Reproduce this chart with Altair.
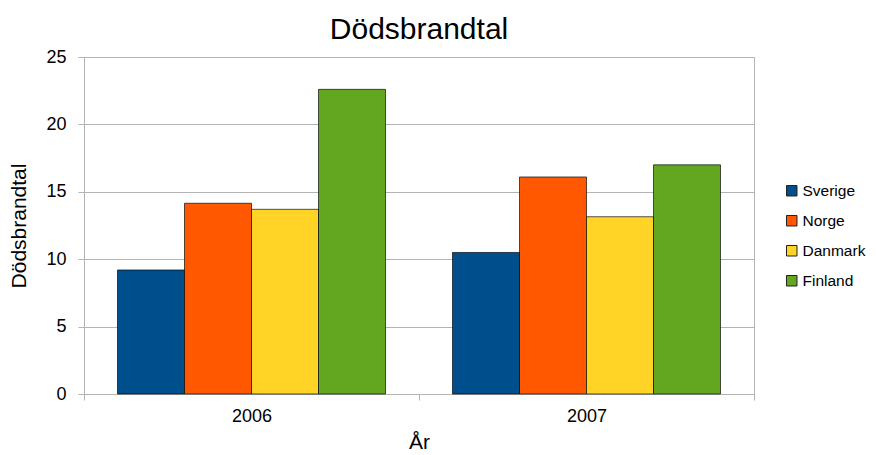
import altair as alt
import pandas as pd

years = ["2006", "2007"]
countries = ["Sverige", "Norge", "Danmark", "Finland"]
colors = ["#004f8d", "#ff5800", "#ffd426", "#63a620"]
values_2006 = [9.2, 14.15, 13.7, 22.6]
values_2007 = [10.5, 16.1, 13.15, 17.0]

rows = []
for y, vals in zip(years, [values_2006, values_2007]):
    for c, v in zip(countries, vals):
        rows.append({"År": y, "Land": c, "Dödsbrandtal": v})
df = pd.DataFrame(rows)

FONT = "Liberation Sans"

chart = alt.Chart(df).mark_bar(stroke="#000000", strokeOpacity=0.65, strokeWidth=1).encode(
    x=alt.X("År:N", sort=years,
            scale=alt.Scale(paddingInner=0, paddingOuter=0),
            axis=alt.Axis(title="År", labelAngle=0, tickBand="extent",
                          labelFontSize=18, titleFontSize=21, titleFontWeight="normal",
                          labelPadding=7, titlePadding=6,
                          domainColor="#b3b3b3", tickColor="#b3b3b3", tickSize=6,
                          labelColor="#000000", titleColor="#000000")),
    xOffset=alt.XOffset("Land:N", sort=countries,
                        scale=alt.Scale(paddingInner=0, paddingOuter=0.5)),
    y=alt.Y("Dödsbrandtal:Q",
            scale=alt.Scale(domain=[0, 25]),
            axis=alt.Axis(title="Dödsbrandtal", values=[0, 5, 10, 15, 20, 25],
                          labelFontSize=18, titleFontSize=21, titleFontWeight="normal",
                          labelPadding=12, titlePadding=16,
                          gridColor="#b3b3b3", domainColor="#b3b3b3",
                          tickColor="#b3b3b3", tickSize=6,
                          labelColor="#000000", titleColor="#000000")),
    color=alt.Color("Land:N", sort=countries,
                    scale=alt.Scale(domain=countries, range=colors),
                    legend=alt.Legend(title=None, orient="none", legendX=700, legendY=126,
                                      symbolType="square", symbolSize=110,
                                      symbolStrokeColor="#222222", symbolStrokeWidth=1,
                                      labelFontSize=15.5, labelColor="#000000",
                                      rowPadding=13, labelOffset=3)),
).properties(
    width=670,
    height=337,
    title=alt.TitleParams("Dödsbrandtal", fontSize=30, fontWeight="normal",
                          anchor="middle", offset=3, color="#000000"),
    padding={"left": 76, "top": 49, "right": 115, "bottom": 58},
    autosize=alt.AutoSizeParams(type="none"),
).configure(font=FONT).configure_view(stroke="#b3b3b3").configure_axis(
    titleFontWeight="normal"
)

chart.save("out.html", embed_options={"renderer": "svg", "actions": False})
